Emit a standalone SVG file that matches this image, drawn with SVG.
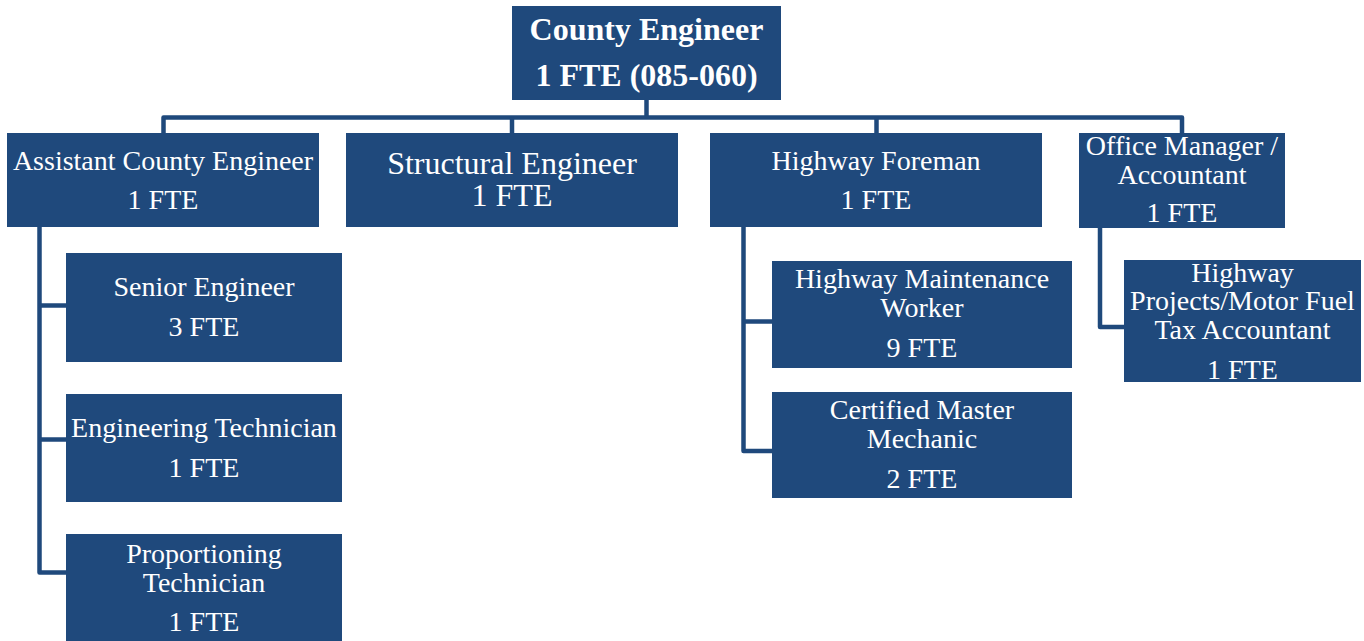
<svg xmlns="http://www.w3.org/2000/svg" width="1364" height="641" viewBox="0 0 1364 641">
<style>
.box{fill:#1f497c;}
.ln{fill:none;stroke:#1f497c;stroke-width:4.5;stroke-linejoin:round;stroke-linecap:butt;}
text{font-family:"Liberation Serif","Times New Roman",serif;fill:#ffffff;text-anchor:middle;font-size:28px;}
.b{font-weight:bold;font-size:32px;}
.l{font-size:32px;}
</style>
<rect width="1364" height="641" fill="#ffffff"/>
<g id="connectors">
<path class="ln" d="M646.5 100 V117.5"/>
<path class="ln" d="M163.5 133 V117.5 H1182 V133"/>
<path class="ln" d="M512 117.5 V133"/>
<path class="ln" d="M876.5 117.5 V133"/>
<path class="ln" d="M39.5 227 V572.5 H66"/>
<path class="ln" d="M39.5 305.5 H66"/>
<path class="ln" d="M39.5 439.5 H66"/>
<path class="ln" d="M743.5 227 V451 H772"/>
<path class="ln" d="M743.5 321.5 H772"/>
<path class="ln" d="M1100 228 V327 H1124"/>
</g>
<g id="county-engineer">
<rect class="box" x="512" y="6" width="269" height="94"/>
<text class="b" x="646.5" y="40">County Engineer</text>
<text class="b" x="646.5" y="86">1 FTE (085-060)</text>
</g>
<g id="assistant-county-engineer">
<rect class="box" x="7" y="133" width="312" height="94"/>
<text x="163" y="169.5">Assistant County Engineer</text>
<text x="163" y="208.5">1 FTE</text>
</g>
<g id="structural-engineer">
<rect class="box" x="346" y="133" width="332" height="94"/>
<text class="l" x="512" y="173.5">Structural Engineer</text>
<text class="l" x="512" y="206">1 FTE</text>
</g>
<g id="highway-foreman">
<rect class="box" x="710" y="133" width="332" height="94"/>
<text x="876" y="169.5">Highway Foreman</text>
<text x="876" y="208.5">1 FTE</text>
</g>
<g id="office-manager">
<rect class="box" x="1079" y="133" width="206" height="95"/>
<text x="1182" y="154.5">Office Manager /</text>
<text x="1182" y="183.5">Accountant</text>
<text x="1182" y="222">1 FTE</text>
</g>
<g id="senior-engineer">
<rect class="box" x="66" y="253" width="276" height="109"/>
<text x="204" y="296">Senior Engineer</text>
<text x="204" y="336">3 FTE</text>
</g>
<g id="engineering-technician">
<rect class="box" x="66" y="394" width="276" height="108"/>
<text x="204" y="437">Engineering Technician</text>
<text x="204" y="477">1 FTE</text>
</g>
<g id="proportioning-technician">
<rect class="box" x="66" y="534" width="276" height="107"/>
<text x="204" y="563">Proportioning</text>
<text x="204" y="592">Technician</text>
<text x="204" y="631">1 FTE</text>
</g>
<g id="highway-maintenance-worker">
<rect class="box" x="772" y="261" width="300" height="107"/>
<text x="922" y="287.5">Highway Maintenance</text>
<text x="922" y="317">Worker</text>
<text x="922" y="357">9 FTE</text>
</g>
<g id="certified-master-mechanic">
<rect class="box" x="772" y="392" width="300" height="106"/>
<text x="922" y="418.5">Certified Master</text>
<text x="922" y="447.5">Mechanic</text>
<text x="922" y="487.5">2 FTE</text>
</g>
<g id="highway-projects-accountant">
<rect class="box" x="1124" y="260" width="237" height="122"/>
<text x="1242.5" y="282">Highway</text>
<text x="1242.5" y="309.5">Projects/Motor Fuel</text>
<text x="1242.5" y="338.5">Tax Accountant</text>
<text x="1242.5" y="378.5">1 FTE</text>
</g>
</svg>
